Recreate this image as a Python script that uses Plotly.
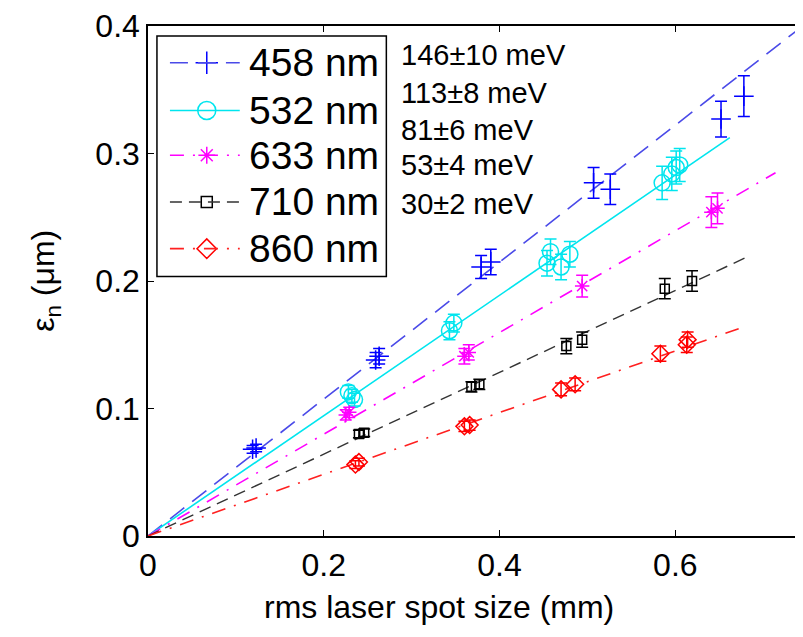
import plotly.graph_objects as go

# ---------------- data ----------------
labels = ["458 nm", "532 nm", "633 nm", "710 nm", "860 nm"]
energies = ["146±10 meV", "113±8 meV", "81±6 meV", "53±4 meV", "30±2 meV"]

x_458 = [0.119, 0.123, 0.259, 0.263, 0.379, 0.390, 0.507, 0.526, 0.652, 0.678]
y_458 = [0.068, 0.069, 0.138, 0.141, 0.211, 0.215, 0.277, 0.272, 0.327, 0.345]
e_458 = [0.003, 0.003, 0.006, 0.006, 0.009, 0.010, 0.012, 0.012, 0.014, 0.016]

x_532 = [0.228, 0.232, 0.235, 0.343, 0.348, 0.454, 0.458, 0.470, 0.480, 0.585, 0.596, 0.601, 0.605]
y_532 = [0.113, 0.110, 0.107, 0.161, 0.167, 0.214, 0.223, 0.211, 0.221, 0.277, 0.284, 0.289, 0.291]
e_532 = [0.005, 0.005, 0.005, 0.007, 0.007, 0.010, 0.010, 0.010, 0.010, 0.013, 0.013, 0.013, 0.013]

x_633 = [0.225, 0.229, 0.360, 0.365, 0.494, 0.641, 0.648]
y_633 = [0.095, 0.097, 0.141, 0.144, 0.196, 0.254, 0.257]
e_633 = [0.004, 0.004, 0.006, 0.006, 0.0085, 0.012, 0.012]

x_710 = [0.240, 0.246, 0.368, 0.377, 0.476, 0.494, 0.588, 0.619]
y_710 = [0.080, 0.081, 0.117, 0.119, 0.149, 0.154, 0.194, 0.200]
e_710 = [0.003, 0.003, 0.004, 0.004, 0.006, 0.006, 0.008, 0.008]

x_860 = [0.236, 0.240, 0.360, 0.366, 0.470, 0.486, 0.583, 0.613, 0.614]
y_860 = [0.056, 0.058, 0.086, 0.087, 0.115, 0.119, 0.143, 0.150, 0.154]
e_860 = [0.003, 0.003, 0.004, 0.004, 0.005, 0.005, 0.006, 0.006, 0.006]

# linear fits through the origin
fit_slope = [0.537, 0.472, 0.399, 0.321, 0.242]
fit_xmax = [0.745, 0.662, 0.714, 0.679, 0.674]

x_ticks = [0, 0.2, 0.4, 0.6]
y_ticks = [0, 0.1, 0.2, 0.3, 0.4]
X_RANGE = [0, 0.743]
Y_RANGE = [0, 0.4]

# ---------------- styles ----------------
FONT = "Liberation Sans, Arial, sans-serif"
series = [
    dict(x=x_458, y=y_458, e=e_458, color="#0000ff", lcolor="#4a4ae8", symbol="cross-thin-open", size=14, dash="18px,10px", lw=1.6),
    dict(x=x_532, y=y_532, e=e_532, color="#00e5ee", lcolor="#00e5ee", symbol="circle-open", size=16, dash="solid", lw=1.6),
    dict(x=x_633, y=y_633, e=e_633, color="#ff00ff", lcolor="#ff00ff", symbol="asterisk-open", size=12, dash="14px,9px,2px,9px", lw=1.6),
    dict(x=x_710, y=y_710, e=e_710, color="#000000", lcolor="#333333", symbol="square-open", size=9, dash="12px,7px", lw=1.4),
    dict(x=x_860, y=y_860, e=e_860, color="#ff0000", lcolor="#ff2020", symbol="diamond-open", size=13, dash="14px,9px,2px,9px", lw=1.6),
]

# legend layout (fractions of the plot area)
leg_box = dict(x0=0.0137, x1=0.365, y0=0.5088, y1=0.9805)
leg_row_y = [0.928, 0.8343, 0.7466, 0.6550, 0.5634]
leg_line_x = [0.0336, 0.1405]
leg_mark_x = 0.090
leg_text_x = 0.151
ann_y = [0.943, 0.869, 0.797, 0.727, 0.651]


def to_x(f):
    return X_RANGE[0] + f * (X_RANGE[1] - X_RANGE[0])


def to_y(f):
    return Y_RANGE[0] + f * (Y_RANGE[1] - Y_RANGE[0])


fig = go.Figure()

fig.add_shape(type="rect", xref="paper", yref="paper", layer="below",
              line=dict(color="black", width=1.5), fillcolor="white", **leg_box)

for i, s in enumerate(series):
    # fit line from origin
    fig.add_trace(go.Scatter(
        x=[0, fit_xmax[i]], y=[0, fit_slope[i] * fit_xmax[i]],
        mode="lines", line=dict(color=s["lcolor"], width=s["lw"], dash=s["dash"]),
        showlegend=False, hoverinfo="skip"))
    # data with error bars
    fig.add_trace(go.Scatter(
        x=s["x"], y=s["y"], mode="markers", name=labels[i],
        marker=dict(symbol=s["symbol"], size=s["size"], color=s["color"],
                    line=dict(width=1.5, color=s["color"])),
        error_y=dict(type="data", array=s["e"], visible=True, color=s["color"],
                     thickness=1.5, width=6),
        showlegend=False))
    # legend sample: line + marker
    fig.add_shape(type="line", xref="paper", yref="paper",
                  x0=leg_line_x[0], x1=leg_line_x[1], y0=leg_row_y[i], y1=leg_row_y[i],
                  line=dict(color=s["lcolor"], width=s["lw"], dash=s["dash"]))
    fig.add_trace(go.Scatter(
        x=[to_x(leg_mark_x)], y=[to_y(leg_row_y[i])], mode="markers",
        marker=dict(symbol=s["symbol"], size=s["size"] + 2, color=s["color"],
                    line=dict(width=1.5, color=s["color"])),
        showlegend=False, hoverinfo="skip"))
    fig.add_annotation(x=leg_text_x, y=leg_row_y[i], xref="paper", yref="paper",
                       text=labels[i], showarrow=False, xanchor="left", yanchor="middle",
                       font=dict(family=FONT, size=39, color="black"))

# energy annotations
for txt, yy in zip(energies, ann_y):
    fig.add_annotation(x=0.385, y=yy, xref="paper", yref="paper", text=txt,
                       showarrow=False, xanchor="left", yanchor="middle",
                       font=dict(family=FONT, size=29, color="black"))

# axis titles
fig.add_annotation(x=(440 - 148) / 655, y=-0.140, xref="paper", yref="paper",
                   text="rms laser spot size (mm)", showarrow=False,
                   xanchor="center", yanchor="middle",
                   font=dict(family=FONT, size=32, color="black"))
fig.add_annotation(x=-0.158, y=0.5, xref="paper", yref="paper",
                   text="ε<sub>n</sub> (μm)", showarrow=False, textangle=-90,
                   xanchor="center", yanchor="middle",
                   font=dict(family=FONT, size=32, color="black"))

axis_common = dict(showgrid=False, zeroline=False, showline=True, linecolor="black",
                   linewidth=1.5, ticks="inside", ticklen=6, tickwidth=1.2,
                   tickcolor="black", mirror="ticks", ticklabeloverflow="allow",
                   tickfont=dict(family=FONT, size=32, color="black"))

# page body has an 8px margin: size the figure so the plot area lands at 148..803 x 23..536
fig.update_layout(
    width=795, height=629,
    margin=dict(l=140, r=0, t=15, b=101),
    paper_bgcolor="white", plot_bgcolor="white",
    xaxis=dict(range=X_RANGE, tickvals=x_ticks, ticktext=["0", "0.2", "0.4", "0.6"],
               **axis_common),
    yaxis=dict(range=Y_RANGE, tickvals=y_ticks, ticktext=["0", "0.1", "0.2", "0.3", "0.4"],
               **axis_common),
    showlegend=False,
)

fig.write_html("out.html")
